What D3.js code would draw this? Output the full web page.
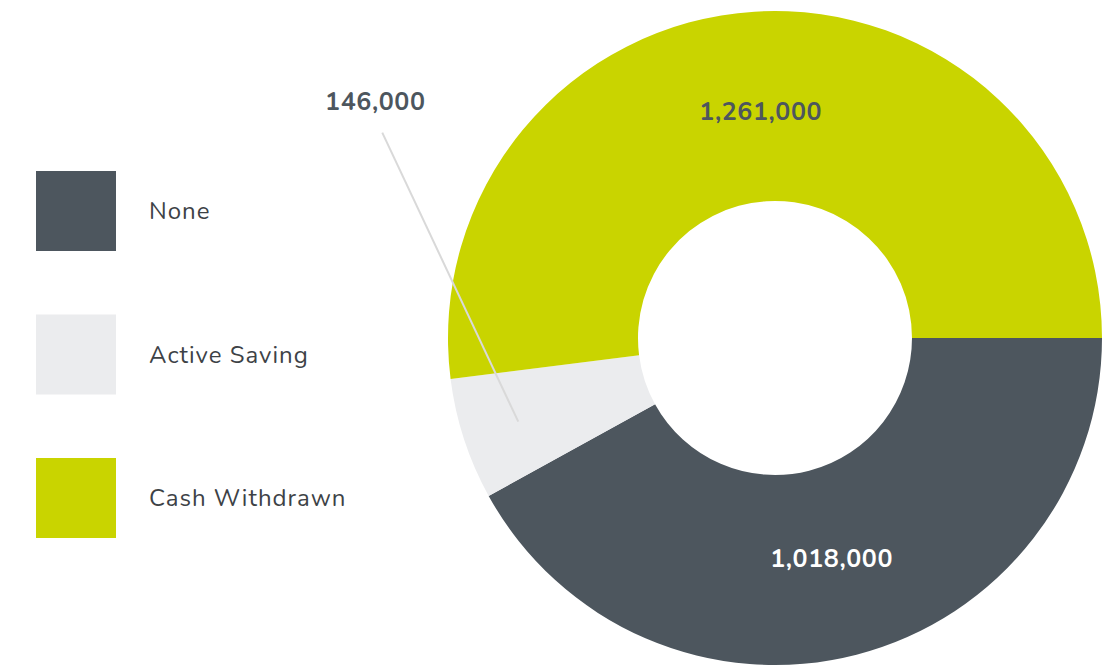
<!DOCTYPE html>
<html>
<head>
<meta charset="utf-8">
<script src="https://cdn.jsdelivr.net/npm/d3@7"></script>
<style>
	body { margin: 0; background: #fff; }
	svg { display: block; font-family: "Nunito", "Lato", "Open Sans", sans-serif; }
</style>
</head>
<body>
<svg id="chart"></svg>
<script>
// data
let categories = ['None', 'Active Saving', 'Cash Withdrawn'];
let values = [1018000, 146000, 1261000];
let colors = ['#4d565e', '#ebecee', '#c9d400'];
let labelColors = ['#ffffff', '#4d565e', '#4d565e'];

let w = 1120, h = 667;
let cx = 775, cy = 338;
let outerR = 327, innerR = 137;

let chart = d3.select('#chart')
	.attr('width', w)
	.attr('height', h);

let dataset = categories.map((c, i) => ({ name: c, value: values[i], color: colors[i], labelColor: labelColors[i] }));

// start at 3 o'clock, go clockwise, keep data order
let pie = d3.pie()
	.value((d) => d.value)
	.sort(null)
	.startAngle(Math.PI / 2)
	.endAngle(Math.PI / 2 + 2 * Math.PI);

let arc = d3.arc().innerRadius(innerR).outerRadius(outerR);
let labelArc = d3.arc().innerRadius(227).outerRadius(227);
let leaderArc = d3.arc().innerRadius(270).outerRadius(270);

let g = chart.append('g').attr('transform', `translate(${cx},${cy})`);
let arcs = pie(dataset);

g.selectAll('path.slice')
	.data(arcs)
	.enter()
	.append('path')
	.attr('class', 'slice')
	.attr('d', arc)
	.attr('fill', (d) => d.data.color);

let fmt = d3.format(',');

// small slice gets an outside label with a leader line
let small = (d) => d.data.value / d3.sum(values) < 0.1;

g.selectAll('text.inside')
	.data(arcs.filter((d) => !small(d)))
	.enter()
	.append('text')
	.attr('class', 'inside')
	.attr('transform', (d) => `translate(${labelArc.centroid(d)})`)
	.attr('text-anchor', 'middle')
	.attr('dy', '0.35em')
	.style('font-size', '25px')
	.style('font-weight', 'bold')
	.style('letter-spacing', '0.6px')
	.attr('fill', (d) => d.data.labelColor)
	.text((d) => fmt(d.data.value));

// outside label: offset from leader end
let outside = arcs.filter(small);
outside.forEach((d) => {
	let end = leaderArc.centroid(d);
	let start = [end[0] - 136, end[1] - 289];
	g.append('line')
		.attr('x1', start[0]).attr('y1', start[1])
		.attr('x2', end[0]).attr('y2', end[1])
		.attr('stroke', '#d9d9d9')
		.attr('stroke-width', 2);
	g.append('text')
		.attr('x', start[0] - 7)
		.attr('y', start[1] - 31)
		.attr('text-anchor', 'middle')
		.attr('dy', '0.35em')
		.style('font-size', '25px')
		.style('font-weight', 'bold')
		.style('letter-spacing', '0.6px')
		.attr('fill', d.data.labelColor)
		.text(fmt(d.data.value));
});

// legend
let legend = chart.append('g').attr('transform', 'translate(36,171)');
let item = legend.selectAll('g.item')
	.data(dataset)
	.enter()
	.append('g')
	.attr('class', 'item')
	.attr('transform', (d, i) => `translate(0,${i * 143.5})`);

item.append('rect')
	.attr('width', 80)
	.attr('height', 80)
	.attr('fill', (d) => d.color);

item.append('text')
	.attr('x', 113)
	.attr('y', 40)
	.attr('dy', '0.35em')
	.style('font-size', '24px')
	.style('letter-spacing', '1px')
	.attr('fill', '#3d4246')
	.text((d) => d.name);
</script>
</body>
</html>
